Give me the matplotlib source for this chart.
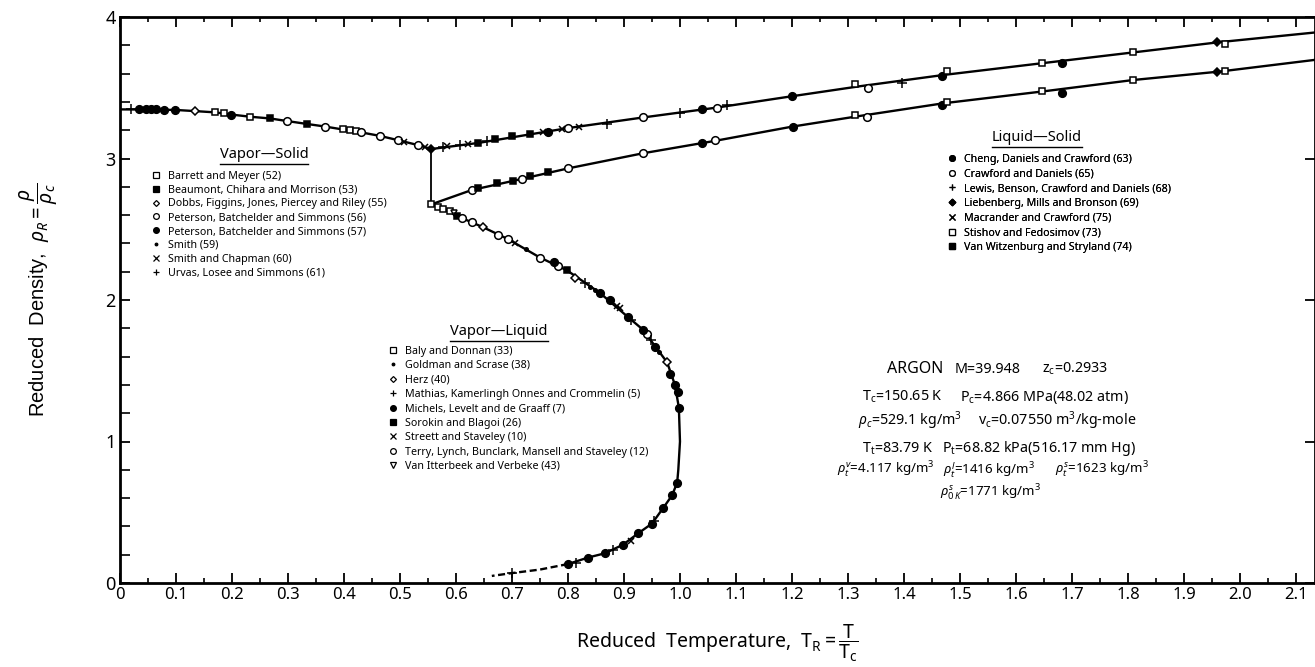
import matplotlib
matplotlib.use("Agg")
import matplotlib.pyplot as plt
from matplotlib.lines import Line2D
from matplotlib.ticker import MultipleLocator, FuncFormatter

plt.rcParams["font.family"] = ["Noto Sans", "DejaVu Sans"]
plt.rcParams["mathtext.fontset"] = "custom"
plt.rcParams["mathtext.rm"] = "Noto Sans"
plt.rcParams["mathtext.it"] = "Noto Sans:italic"
plt.rcParams["mathtext.bf"] = "Noto Sans:bold"

OUT_PNG = "out.png"

# ---- coexistence curves (reduced temperature, reduced density) ----
VS_CURVE_T = [0.0, 0.05, 0.1, 0.134, 0.17, 0.2, 0.233, 0.268, 0.298, 0.334,
              0.366, 0.398, 0.43, 0.464, 0.496, 0.532, 0.556]
VS_CURVE_RHO = [3.347, 3.346, 3.343, 3.335, 3.326, 3.31, 3.295, 3.283, 3.265, 3.244,
                3.226, 3.205, 3.185, 3.16, 3.13, 3.095, 3.067]

TRIPLE_T = [0.556, 0.556]
TRIPLE_RHO = [3.067, 2.676]

MELT_SOLID_T = [0.556, 0.64, 0.80, 0.934, 1.066, 1.2, 1.32, 1.47, 1.65, 1.81, 1.965, 2.14]
MELT_SOLID_RHO = [3.067, 3.11, 3.215, 3.29, 3.36, 3.44, 3.51, 3.59, 3.675, 3.75, 3.823, 3.893]

MELT_LIQUID_T = [0.556, 0.628, 0.70, 0.80, 0.934, 1.063, 1.2, 1.32, 1.47, 1.65, 1.81, 1.965, 2.14]
MELT_LIQUID_RHO = [2.676, 2.777, 2.84, 2.93, 3.037, 3.125, 3.225, 3.30, 3.39, 3.475, 3.555, 3.615, 3.70]

VL_CURVE_T = [0.556, 0.577, 0.61, 0.648, 0.693, 0.75, 0.798, 0.857, 0.907, 0.934,
              0.958, 0.977, 0.991, 0.998, 1.0, 0.997, 0.995, 0.986, 0.97, 0.95,
              0.925, 0.898, 0.866, 0.836, 0.80]
VL_CURVE_RHO = [2.676, 2.645, 2.58, 2.515, 2.43, 2.30, 2.21, 2.05, 1.88, 1.79,
                1.66, 1.56, 1.40, 1.24, 1.0, 0.80, 0.71, 0.62, 0.53, 0.42,
                0.35, 0.27, 0.21, 0.18, 0.134]

VL_DASHED_T = [0.80, 0.75, 0.70, 0.664]
VL_DASHED_RHO = [0.134, 0.095, 0.07, 0.05]

# ---- measured points, grouped by symbol ----
VS_POINTS = {
    "plus": ([0.02], [3.347]),
    "fill_circ": ([0.034, 0.046, 0.055, 0.064, 0.079, 0.098, 0.199],
                  [3.347, 3.347, 3.347, 3.347, 3.346, 3.345, 3.31]),
    "open_dia": ([0.134], [3.335]),
    "open_sq": ([0.17, 0.186, 0.233, 0.398, 0.41, 0.422],
                [3.33, 3.32, 3.295, 3.205, 3.20, 3.195]),
    "fill_sq": ([0.268, 0.334], [3.283, 3.244]),
    "open_circ": ([0.298, 0.366, 0.43, 0.464, 0.496, 0.532],
                  [3.265, 3.226, 3.185, 3.16, 3.13, 3.095]),
    "x": ([0.508, 0.544], [3.12, 3.08]),
}

LS_SOLID_POINTS = {
    "plus": ([0.577, 0.607, 0.655, 0.87, 1.0, 1.084, 1.396],
             [3.08, 3.095, 3.125, 3.245, 3.32, 3.375, 3.535]),
    "x": ([0.584, 0.622, 0.756, 0.79, 0.82], [3.085, 3.10, 3.185, 3.205, 3.225]),
    "fill_sq": ([0.64, 0.67, 0.70, 0.732], [3.11, 3.14, 3.16, 3.175]),
    "fill_circ": ([0.765, 1.04, 1.2, 1.468, 1.682], [3.19, 3.35, 3.44, 3.583, 3.677]),
    "open_circ": ([0.80, 0.934, 1.066, 1.336], [3.215, 3.29, 3.36, 3.50]),
    "open_sq": ([1.313, 1.476, 1.646, 1.809, 1.973], [3.53, 3.62, 3.677, 3.755, 3.81]),
    "fill_dia": ([0.556, 1.959], [3.067, 3.826]),
}

LS_LIQUID_POINTS = {
    "open_circ": ([0.628, 0.718, 0.80, 0.934, 1.063, 1.334],
                  [2.777, 2.855, 2.93, 3.037, 3.13, 3.29]),
    "fill_sq": ([0.64, 0.673, 0.702, 0.732, 0.764], [2.79, 2.825, 2.84, 2.878, 2.907]),
    "fill_circ": ([1.039, 1.202, 1.468, 1.682], [3.107, 3.225, 3.378, 3.465]),
    "open_sq": ([1.313, 1.476, 1.646, 1.809, 1.973], [3.307, 3.40, 3.479, 3.555, 3.62]),
    "fill_dia": ([1.959], [3.613]),
}

VL_POINTS = {
    "open_sq": ([0.556, 0.568, 0.577, 0.59], [2.676, 2.66, 2.645, 2.63]),
    "tri": ([0.596], [2.615]),
    "fill_sq": ([0.602, 0.798], [2.595, 2.21]),
    "open_circ": ([0.61, 0.628, 0.675, 0.693, 0.75, 0.782, 0.941],
                  [2.58, 2.55, 2.46, 2.43, 2.30, 2.24, 1.76]),
    "open_dia": ([0.648, 0.813, 0.977], [2.515, 2.155, 1.56]),
    "x": ([0.705, 0.887, 0.893, 0.912], [2.40, 1.96, 1.94, 0.30]),
    "dot": ([0.725, 0.84, 0.848, 0.962], [2.36, 2.09, 2.07, 1.63]),
    "plus": ([0.83, 0.913, 0.948, 0.953, 0.88, 0.815, 0.70],
             [2.12, 1.86, 1.72, 0.44, 0.235, 0.14, 0.07]),
    "fill_circ": ([0.775, 0.857, 0.875, 0.907, 0.934, 0.955, 0.982, 0.991, 0.996, 0.998,
                   0.995, 0.986, 0.97, 0.95, 0.925, 0.898, 0.866, 0.836, 0.80],
                  [2.27, 2.05, 2.00, 1.88, 1.79, 1.67, 1.48, 1.40, 1.35, 1.24,
                   0.71, 0.62, 0.53, 0.42, 0.35, 0.27, 0.21, 0.18, 0.134]),
}

# ---- legends ----
VS_LABELS = ["Barrett and Meyer (52)", "Beaumont, Chihara and Morrison (53)",
             "Dobbs, Figgins, Jones, Piercey and Riley (55)",
             "Peterson, Batchelder and Simmons (56)", "Peterson, Batchelder and Simmons (57)",
             "Smith (59)", "Smith and Chapman (60)", "Urvas, Losee and Simmons (61)"]
VS_SYMBOLS = ["open_sq", "fill_sq", "open_dia", "open_circ", "fill_circ", "dot", "x", "plus"]

VL_LABELS = ["Baly and Donnan (33)", "Goldman and Scrase (38)", "Herz (40)",
             "Mathias, Kamerlingh Onnes and Crommelin (5)", "Michels, Levelt and de Graaff (7)",
             "Sorokin and Blagoi (26)", "Streett and Staveley (10)",
             "Terry, Lynch, Bunclark, Mansell and Staveley (12)", "Van Itterbeek and Verbeke (43)"]
VL_SYMBOLS = ["open_sq", "dot", "open_dia", "plus", "fill_circ", "fill_sq", "x", "open_circ", "tri"]

LS_LABELS = ["Cheng, Daniels and Crawford (63)", "Crawford and Daniels (65)",
             "Lewis, Benson, Crawford and Daniels (68)", "Liebenberg, Mills and Bronson (69)",
             "Macrander and Crawford (75)", "Stishov and Fedosimov (73)",
             "Van Witzenburg and Stryland (74)"]
LS_SYMBOLS = ["fill_circ", "open_circ", "plus", "fill_dia", "x", "open_sq", "fill_sq"]

X_TICKS = [0.0, 0.1, 0.2, 0.3, 0.4, 0.5, 0.6, 0.7, 0.8, 0.9, 1.0,
           1.1, 1.2, 1.3, 1.4, 1.5, 1.6, 1.7, 1.8, 1.9, 2.0, 2.1]
Y_TICKS = [0, 1, 2, 3, 4]

MARKER_STYLE = {
    "open_sq": dict(marker="s", mfc="white", ms=5),
    "fill_sq": dict(marker="s", mfc="black", ms=5),
    "open_dia": dict(marker="D", mfc="white", ms=4),
    "fill_dia": dict(marker="D", mfc="black", ms=4.5),
    "open_circ": dict(marker="o", mfc="white", ms=5.5),
    "fill_circ": dict(marker="o", mfc="black", ms=5.5),
    "dot": dict(marker="o", mfc="black", ms=2.5),
    "x": dict(marker="x", ms=5),
    "plus": dict(marker="+", ms=6.5),
    "tri": dict(marker="v", mfc="white", ms=5),
}


def draw_points(ax, groups):
    for key, (t, rho) in groups.items():
        ax.plot(t, rho, ls="none", color="black", mec="black", mew=1.1,
                zorder=3, **MARKER_STYLE[key])


def add_legend(ax, labels, symbols, anchor, spacing):
    handles = [Line2D([], [], ls="none", color="black", mec="black", mew=0.9,
                      **MARKER_STYLE[s]) for s in symbols]
    leg = ax.legend(handles, labels, loc="upper left", bbox_to_anchor=anchor,
                    bbox_transform=ax.transData, frameon=False, fontsize=7.7,
                    handlelength=0.9, handletextpad=0.65, labelspacing=spacing,
                    borderpad=0, borderaxespad=0, markerscale=0.75)
    ax.add_artist(leg)


def underlined_title(fig, ax, x, y, text):
    t = ax.text(x, y, text, ha="center", va="center", fontsize=10.5)
    renderer = fig.canvas.get_renderer()
    bb = t.get_window_extent(renderer).transformed(fig.transFigure.inverted())
    fig.add_artist(Line2D([bb.x0, bb.x1], [bb.y0 - 0.002, bb.y0 - 0.002],
                          transform=fig.transFigure, color="black", lw=1.0))


def main():
    fig = plt.figure(figsize=(13.15, 6.67), dpi=100)
    ax = fig.add_axes([120 / 1315, 84 / 667, 1195 / 1315, 566 / 667])

    line_kw = dict(color="black", lw=1.7, zorder=2)
    ax.plot(VS_CURVE_T, VS_CURVE_RHO, **line_kw)
    ax.plot(TRIPLE_T, TRIPLE_RHO, color="black", lw=1.3, zorder=2)
    ax.plot(MELT_SOLID_T, MELT_SOLID_RHO, **line_kw)
    ax.plot(MELT_LIQUID_T, MELT_LIQUID_RHO, **line_kw)
    ax.plot(VL_CURVE_T, VL_CURVE_RHO, **line_kw)
    ax.plot(VL_DASHED_T, VL_DASHED_RHO, color="black", lw=1.7, ls=(0, (3, 1.5)), zorder=2)

    draw_points(ax, VS_POINTS)
    draw_points(ax, LS_SOLID_POINTS)
    draw_points(ax, LS_LIQUID_POINTS)
    draw_points(ax, VL_POINTS)

    ax.set_xlim(0, 2.134)
    ax.set_ylim(0, 4)

    # section titles and symbol keys
    underlined_title(fig, ax, 0.257, 3.025, "Vapor\u2014Solid")
    underlined_title(fig, ax, 0.677, 1.774, "Vapor\u2014Liquid")
    underlined_title(fig, ax, 1.6375, 3.145, "Liquid\u2014Solid")

    add_legend(ax, VS_LABELS, VS_SYMBOLS, (0.0554, 2.915), 0.27)
    add_legend(ax, VL_LABELS, VL_SYMBOLS, (0.4786, 1.678), 0.32)
    add_legend(ax, LS_LABELS, LS_SYMBOLS, (1.477, 3.035), 0.35)

    # argon constants
    txt = dict(ha="left", va="center", fontsize=10.3)
    ax.text(1.37, 1.512, "ARGON", ha="left", va="center", fontsize=11.5)
    ax.text(1.491, 1.512, "M=39.948", **txt)
    ax.text(1.646, 1.512, r"$\mathregular{z_c}$=0.2933", **txt)
    ax.text(1.325, 1.314, r"$\mathregular{T_c}$=150.65 K", **txt)
    ax.text(1.50, 1.314, r"$\mathregular{P_c}$=4.866 MPa(48.02 atm)", **txt)
    ax.text(1.318, 1.145, r"$\rho_c$=529.1 kg/m$^3$", **txt)
    ax.text(1.532, 1.145, r"$\mathregular{v_c}$=0.07550 m$^3$/kg-mole", **txt)
    ax.text(1.325, 0.947, r"$\mathregular{T_t}$=83.79 K", **txt)
    ax.text(1.468, 0.947, r"$\mathregular{P_t}$=68.82 kPa(516.17 mm Hg)", **txt)
    small = dict(ha="left", va="center", fontsize=9.6)
    ax.text(1.281, 0.799, r"$\rho_t^v$=4.117 kg/m$^3$", **small)
    ax.text(1.47, 0.799, r"$\rho_t^l$=1416 kg/m$^3$", **small)
    ax.text(1.67, 0.799, r"$\rho_t^s$=1623 kg/m$^3$", **small)
    ax.text(1.464, 0.636, r"$\rho_{0\,K}^s$=1771 kg/m$^3$", **small)

    # axes styling
    ax.set_xticks(X_TICKS)
    ax.xaxis.set_minor_locator(MultipleLocator(0.05))
    ax.xaxis.set_major_formatter(FuncFormatter(lambda v, p: "0" if v == 0 else f"{v:.1f}"))
    ax.set_yticks(Y_TICKS)
    ax.yaxis.set_minor_locator(MultipleLocator(0.2))

    ax.tick_params(which="both", direction="in", top=True, colors="black")
    ax.tick_params(axis="x", which="major", length=7, width=1.3, labelsize=12, pad=3)
    ax.tick_params(axis="x", which="minor", length=3.5, width=1.2)
    ax.tick_params(axis="y", which="major", length=7, width=1.3, labelsize=13, pad=3, right=True)
    ax.tick_params(axis="y", which="minor", length=7, width=1.2, right=False)

    for side in ["left", "bottom", "top", "right"]:
        ax.spines[side].set_linewidth(2)

    ax.set_xlabel(r"Reduced  Temperature,  $\mathregular{T_R}=\dfrac{\mathregular{T}}{\mathregular{T_c}}$",
                  fontsize=14)
    ax.xaxis.set_label_coords(0.5, -0.07)
    ax.set_ylabel(r"Reduced  Density,  $\rho_R=\dfrac{\rho}{\rho_c}$",
                  fontsize=14.5, family=["Liberation Sans", "DejaVu Sans"])
    ax.yaxis.set_label_coords(-0.05, 0.5)

    fig.savefig(OUT_PNG, dpi=100)


if __name__ == "__main__":
    main()
